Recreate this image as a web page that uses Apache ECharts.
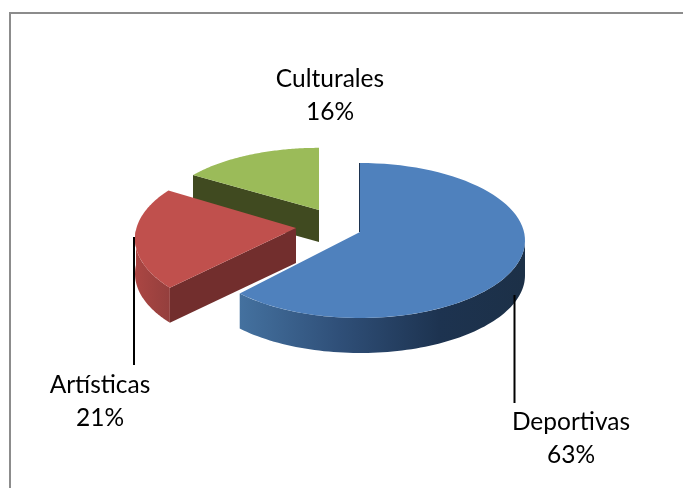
<!DOCTYPE html>
<html>
<head>
<meta charset="utf-8">
<style>
html,body{margin:0;padding:0;background:#fff;}
#chart{width:683px;height:488px;}
</style>
<script src="https://cdn.jsdelivr.net/npm/echarts@6/dist/echarts.min.js"></script>
</head>
<body>
<div id="chart"></div>
<script>
var categories = ['Deportivas', 'Artísticas', 'Culturales'];
var values = [63, 21, 16];

var fontFamily = 'Lato, Carlito, sans-serif';

// where each exploded slice sits on the page, and how the disc is tilted
var layouts = [
    { x: 360, y: 232, rx: 165, ry: 77.5, drop: 8.5, k: 0, depth: 35 },
    { x: 296, y: 228, rx: 160, ry: 78, drop: 2, k: 0.11, depth: 35 },
    { x: 319, y: 210, rx: 158, ry: 69, drop: 0, k: 0.11, depth: 32 }
];
var labelPos = [[571, 439], [100, 402], [330, 96]];
var leaders = [[514.5, 295, 403], [134, 237, 365], null];
var topColors = ['#4f81bd', '#c0504d', '#9bbb59'];
var faceColors = [null, '#722e2d', '#404a20'];
var wallStops = [
    [[0, '#44719f'], [0.35, '#2f4f78'], [0.7, '#1d3350'], [1, '#1c3047']],
    [[0, '#ab4643'], [1, '#943f3d']],
    null
];

var total = values.reduce(function (a, b) { return a + b; }, 0);

function startAngle(i) {
    var sum = 0;
    for (var j = 0; j < i; j++) sum += values[j];
    return sum / total * Math.PI * 2;
}

function project(l, a) {
    var u = Math.sin(a), v = Math.cos(a);
    var s = 1 / (1 + l.k * v);
    return [l.x + l.rx * u * s, l.y + l.drop - l.ry * v * s];
}

function arc(l, a0, a1) {
    var pts = [];
    for (var n = 0; n <= 80; n++) pts.push(project(l, a0 + (a1 - a0) * n / 80));
    return pts;
}

function renderSlice(params, api) {
    var i = api.value(0);
    var l = layouts[i];
    var a0 = startAngle(i);
    var a1 = a0 + values[i] / total * Math.PI * 2;
    var kids = [];
    var apex = [l.x, l.y];
    var rim = arc(l, a0, a1);
    var first = rim[0];

    // cut face running from the centre to the rim
    if (faceColors[i]) {
        kids.push({
            type: 'polygon',
            shape: { points: [apex, first, [first[0], first[1] + l.depth], [apex[0], apex[1] + l.depth]] },
            style: { fill: faceColors[i] }
        });
    }
    // outer wall, only the part of the rim that faces us
    if (wallStops[i]) {
        var from = i === 0 ? Math.PI / 2 : a0;
        var to = i === 0 ? a1 : Math.PI * 1.5;
        var wall = arc(l, from, to);
        var lower = wall.map(function (p) { return [p[0], p[1] + l.depth]; }).reverse();
        kids.push({
            type: 'polygon',
            shape: { points: wall.concat(lower) },
            style: {
                fill: new echarts.graphic.LinearGradient(0, 0, 1, 0,
                    wallStops[i].map(function (s) { return { offset: s[0], color: s[1] }; }))
            }
        });
    }
    // thin dark sliver beside the blue slice's upright cut
    if (i === 0) {
        kids.push({
            type: 'line',
            shape: { x1: l.x - 0.5, y1: first[1], x2: l.x - 0.5, y2: l.y },
            style: { stroke: '#1d3350', lineWidth: 1 }
        });
    }
    kids.push({
        type: 'polygon',
        shape: { points: [apex].concat(rim) },
        style: { fill: topColors[i] }
    });
    return { type: 'group', children: kids };
}

function renderLabel(params, api) {
    var i = api.value(0);
    var kids = [{
        type: 'text',
        style: {
            x: labelPos[i][0],
            y: labelPos[i][1],
            text: categories[i] + '\n' + values[i] + '%',
            fill: '#000',
            font: '24.5px ' + fontFamily,
            lineHeight: 33,
            align: 'center',
            verticalAlign: 'middle'
        }
    }];
    if (leaders[i]) {
        kids.push({
            type: 'line',
            shape: { x1: leaders[i][0], y1: leaders[i][1], x2: leaders[i][0], y2: leaders[i][2] },
            style: { stroke: '#000', lineWidth: 2 }
        });
    }
    return { type: 'group', children: kids };
}

var myChart = echarts.init(document.getElementById('chart'), null, { renderer: 'canvas' });
myChart.setOption({
    animation: false,
    backgroundColor: '#fff',
    graphic: [{
        type: 'polyline',
        silent: true,
        shape: { points: [[10, 488], [10, 13], [683, 13]] },
        style: { stroke: '#8c8c8c', fill: null, lineWidth: 2 }
    }],
    series: [{
        type: 'custom',
        coordinateSystem: 'none',
        silent: true,
        renderItem: renderSlice,
        data: [[2], [1], [0]]
    }, {
        type: 'custom',
        coordinateSystem: 'none',
        silent: true,
        renderItem: renderLabel,
        data: [[0], [1], [2]]
    }]
});
</script>
</body>
</html>
